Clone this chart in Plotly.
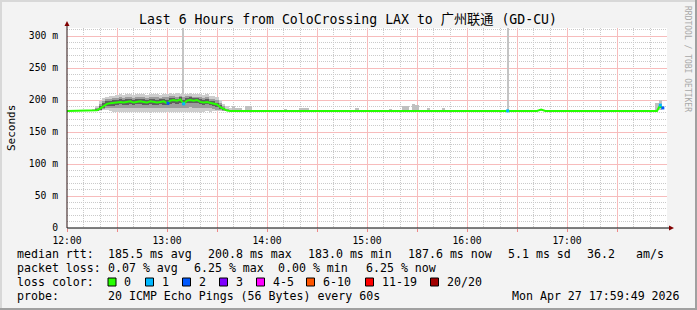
import plotly.graph_objects as go

# ---------------- data ----------------
X_TICK_VALS = [0, 30, 60, 90, 120, 150, 180, 210, 240, 270, 300, 330]
X_TICK_TEXT = ["12:00", "", "13:00", "", "14:00", "", "15:00", "", "16:00", "", "17:00", ""]
Y_TICK_VALS = [0, 50, 100, 150, 200, 250, 300]
Y_TICK_TEXT = ["0", "50 m", "100 m", "150 m", "200 m", "250 m", "300 m"]

# smoke grid (minutes after 12:00) for the elevated period
SMOKE_T = [16, 18, 20, 22, 24, 26, 28, 30, 32, 34, 36, 38, 40, 42, 44, 46, 48, 50, 52, 54, 56,
           58, 60, 62, 64, 66, 68, 70, 72, 74, 76, 78, 80, 82, 84, 86, 88, 90, 92, 94, 96, 98]
OUT_LO = [183, 183, 183, 184, 184, 183, 182, 182, 181, 182, 181, 182, 181, 182, 181, 182, 182, 181, 182, 181, 182,
          181, 182, 182, 181, 182, 181, 182, 181, 182, 182, 181, 182, 182, 183, 182, 183, 183, 183, 183, 183, 183]
OUT_HI = [185, 190, 198, 203, 205, 206, 207, 208, 209, 208, 209, 210, 208, 209, 210, 209, 208, 209, 210, 209, 208,
          209, 210, 211, 210, 211, 210, 209, 210, 211, 210, 209, 209, 208, 209, 207, 206, 205, 200, 193, 190, 187]
MID_LO = [183, 183, 184, 186, 187, 187, 187, 188, 188, 187, 188, 188, 187, 188, 188, 187, 187, 188, 187, 187, 188,
          187, 187, 188, 188, 188, 188, 187, 188, 189, 188, 188, 188, 187, 187, 187, 186, 185, 184, 183, 183, 183]
MID_HI = [184, 187, 193, 199, 201, 202, 203, 203, 204, 203, 204, 205, 203, 204, 205, 204, 203, 204, 205, 204, 203,
          204, 204, 206, 206, 205, 206, 205, 206, 206, 205, 205, 204, 203, 204, 202, 201, 200, 196, 190, 186, 184]
IN_LO = [183, 183, 185, 188, 190, 191, 191, 192, 193, 192, 192, 193, 192, 193, 193, 192, 192, 193, 192, 192, 193,
         192, 192, 194, 195, 194, 195, 192, 195, 195, 195, 195, 193, 192, 193, 192, 191, 189, 186, 184, 183, 183]
IN_HI = [183.5, 185, 190, 195, 198, 199, 200, 200, 201, 200, 201, 202, 200, 201, 202, 201, 200, 201, 202, 200, 201,
         202, 200, 203, 203, 202, 204, 200, 203, 204, 203, 203, 201, 200, 201, 199, 198, 196, 192, 188, 184, 183.5]

# small smoke blips along the baseline
BLIP_T = [100, 102, 104, 108, 110, 131, 140, 142, 144, 174, 194, 202, 204, 208, 210, 217, 226, 284, 354, 356]
BLIP_LO = [184, 184, 184, 184, 184, 184, 184, 184, 184, 184, 184, 184, 184, 184, 184, 184, 184, 184, 184, 184]
BLIP_HI = [190, 188, 188, 191, 190, 186, 188, 188, 187, 188, 186, 191, 190, 193, 192, 187, 188, 186, 196, 200]

# outlier spikes (max ping beyond the top of the chart)
SPIKE_T = [69.6, 264.4]
SPIKE_LO = [205, 184]
SPIKE_HI = [330, 330]

# median rtt
MED_T = [0, 16] + SMOKE_T[1:] + [282, 284.5, 287, 354, 355.5, 357.5]
MED_V = ([183.0, 183.0] +
         [184, 187, 191, 194, 195, 196, 196, 197, 196, 197, 198, 196, 197, 198, 197, 196, 198, 197, 196, 197,
          198, 195, 199, 200, 199, 200.8, 194, 199, 200, 199, 200, 197, 196, 197, 196, 195, 193, 189, 186, 183.5, 183] +
         [183.0, 185.0, 183.0, 183.0, 190.0, 187.6])

# points with packet loss (loss bucket index)
LOSS_T = [60.6, 70.0, 264.4, 356.0, 357.5]
LOSS_V = [195, 194, 183, 192, 187.6]
LOSS_IDX = [2, 1, 1, 1, 2]

LOSS_LABELS = ["0", "1", "2", "3", "4-5", "6-10", "11-19", "20/20"]
LOSS_COLORS = ["#26ff00", "#00b8ff", "#0059ff", "#7e00ff", "#ff00ff", "#ff5500", "#ff0000", "#a10000"]

TITLE = "Last 6 Hours from ColoCrossing LAX to 广州联通 (GD-CU)"
RTT_LABEL = "median rtt:"
RTT_STATS = ["185.5 ms avg", "200.8 ms max", "183.0 ms min", "187.6 ms now", "5.1 ms sd", "36.2", "am/s"]
LOSS_LABEL = "packet loss:"
LOSS_STATS = ["0.07 % avg", "6.25 % max", "0.00 % min", "6.25 % now"]
COLOR_LABEL = "loss color:"
PROBE_LABEL = "probe:"
PROBE_TEXT = "20 ICMP Echo Pings (56 Bytes) every 60s"
DATE_TEXT = "Mon Apr 27 17:59:49 2026"
Y_TITLE = "Seconds"
WATERMARK = "RRDTOOL / TOBI OETIKER"

# ---------------- layout geometry ----------------
W, H = 697, 310
L, T, PW, PH = 67, 28, 600, 200
X_MAX, Y_MAX = 360, 312.5
MONO = "DejaVu Sans Mono, Noto Sans CJK SC, monospace"
X_MINOR = [v for v in range(0, 361, 10) if v % 30]
Y_MINOR = [v for v in range(0, 313, 10) if v % 50]


def ax(xp):
    return (xp - L) / PW


def ay(yp):
    return (T + PH - yp) / PH


fig = go.Figure()


def smoke(lo, hi, color, xs, width):
    fig.add_trace(go.Bar(x=xs, base=lo, y=[h - l for l, h in zip(lo, hi)], width=width,
                         marker=dict(color=color, line=dict(width=0)), hoverinfo="skip", showlegend=False))


smoke(SPIKE_LO, SPIKE_HI, "#c4c4c4", SPIKE_T, 1.2)
smoke(BLIP_LO, BLIP_HI, "#c0c0c0", BLIP_T, 2)
smoke(OUT_LO, OUT_HI, "#cdcdcd", SMOKE_T, 2)
smoke(MID_LO, MID_HI, "#9c9c9c", SMOKE_T, 2)
smoke(IN_LO, IN_HI, "#5e5e5e", SMOKE_T, 2)

fig.add_trace(go.Scatter(x=MED_T, y=MED_V, mode="lines", line=dict(color=LOSS_COLORS[0], width=2),
                         hoverinfo="skip", showlegend=False))
fig.add_trace(go.Scatter(x=LOSS_T, y=LOSS_V, mode="markers",
                         marker=dict(symbol="square", size=3, color=[LOSS_COLORS[i] for i in LOSS_IDX],
                                     line=dict(width=0)),
                         hoverinfo="skip", showlegend=False))

MAJ = "#f7bcbc"
MIN = "#cacaca"

fig.update_layout(
    width=W, height=H,
    margin=dict(l=L, r=W - L - PW, t=T, b=H - T - PH, pad=0),
    paper_bgcolor="#f3f3f3", plot_bgcolor="#ffffff",
    barmode="overlay", bargap=0,
    font=dict(family=MONO, color="#000000"),
    xaxis=dict(range=[0, X_MAX], tickmode="array", tickvals=X_TICK_VALS, ticktext=X_TICK_TEXT,
               showgrid=True, gridcolor=MAJ, gridwidth=1, griddash="solid",
               minor=dict(tickmode="array", tickvals=X_MINOR, showgrid=True, gridcolor=MIN,
                          griddash="1px,1px", gridwidth=1, ticks=""),
               zeroline=False, showline=False, ticks="outside", ticklen=3, tickcolor="#e88",
               tickfont=dict(family=MONO, size=9.7, color="#000"), fixedrange=True),
    yaxis=dict(range=[0, Y_MAX], tickmode="array", tickvals=Y_TICK_VALS, ticktext=Y_TICK_TEXT,
               showgrid=True, gridcolor=MAJ, gridwidth=1, griddash="solid",
               minor=dict(tickmode="array", tickvals=Y_MINOR, showgrid=True, gridcolor=MIN,
                          griddash="1px,1px", gridwidth=1, ticks=""),
               zeroline=False, showline=False, ticks="", ticklabelstandoff=8,
               tickfont=dict(family=MONO, size=9.7, color="#000"), fixedrange=True),
)

shapes = []
# axes
shapes.append(dict(type="line", xref="paper", yref="paper", x0=0, x1=ax(670), y0=0, y1=0,
                   line=dict(color="#000000", width=1)))
shapes.append(dict(type="line", xref="paper", yref="paper", x0=0, x1=0, y0=0, y1=ay(23),
                   line=dict(color="#2a1010", width=1)))
shapes.append(dict(type="path", xref="paper", yref="paper", fillcolor="#800000", line=dict(width=0),
                   path=f"M {ax(669)},{ay(225.5)} L {ax(674)},{ay(228)} L {ax(669)},{ay(230.5)} Z"))
shapes.append(dict(type="path", xref="paper", yref="paper", fillcolor="#800000", line=dict(width=0),
                   path=f"M {ax(64.5)},{ay(26)} L {ax(67)},{ay(21)} L {ax(69.5)},{ay(26)} Z"))
# frame (3D border)
shapes.append(dict(type="rect", xref="paper", yref="paper", x0=ax(0), x1=ax(W), y0=ay(0), y1=ay(2),
                   fillcolor="#d8d8d8", line=dict(width=0), layer="above"))
shapes.append(dict(type="rect", xref="paper", yref="paper", x0=ax(0), x1=ax(2), y0=ay(0), y1=ay(H),
                   fillcolor="#d8d8d8", line=dict(width=0), layer="above"))
shapes.append(dict(type="rect", xref="paper", yref="paper", x0=ax(W - 2), x1=ax(W), y0=ay(0), y1=ay(H),
                   fillcolor="#a0a0a0", line=dict(width=0), layer="above"))
shapes.append(dict(type="rect", xref="paper", yref="paper", x0=ax(0), x1=ax(W), y0=ay(H - 2), y1=ay(H),
                   fillcolor="#a0a0a0", line=dict(width=0), layer="above"))

annotations = []


def txt(x, y, s, size=11.6, anchor="left", color="#000000", angle=0):
    annotations.append(dict(x=ax(x), y=ay(y), xref="paper", yref="paper", text=s, showarrow=False,
                            xanchor=anchor, yanchor="middle", borderpad=0, textangle=angle,
                            font=dict(family=MONO, size=size, color=color)))


txt(348, 20, TITLE, size=13.2, anchor="center")
txt(11, 128, Y_TITLE, size=11, anchor="center", angle=-90)
txt(688, 59, WATERMARK, size=8, anchor="center", color="#a8a8a8", angle=90)

ROW_Y = [254, 268, 282, 296]
txt(16, ROW_Y[0], RTT_LABEL)
for xp, s in zip([107, 207, 307, 407, 507, 586, 635], RTT_STATS):
    txt(xp, ROW_Y[0], s)
txt(16, ROW_Y[1], LOSS_LABEL)
for xp, s in zip([107, 193, 277, 365], LOSS_STATS):
    txt(xp, ROW_Y[1], s)
txt(16, ROW_Y[2], COLOR_LABEL)
for bx, lab, col in zip([108, 145.5, 182.5, 219.5, 256.5, 306.5, 365.5, 430.5], LOSS_LABELS, LOSS_COLORS):
    shapes.append(dict(type="rect", xref="paper", yref="paper", x0=ax(bx), x1=ax(bx + 8),
                       y0=ay(ROW_Y[2] - 4), y1=ay(ROW_Y[2] + 4), fillcolor=col,
                       line=dict(color="#000000", width=1)))
    txt(bx + 15, ROW_Y[2], lab)
txt(16, ROW_Y[3], PROBE_LABEL)
txt(107, ROW_Y[3], PROBE_TEXT)
txt(681, ROW_Y[3], DATE_TEXT, anchor="right")

fig.update_layout(shapes=shapes, annotations=annotations)
fig.write_html("out.html")
